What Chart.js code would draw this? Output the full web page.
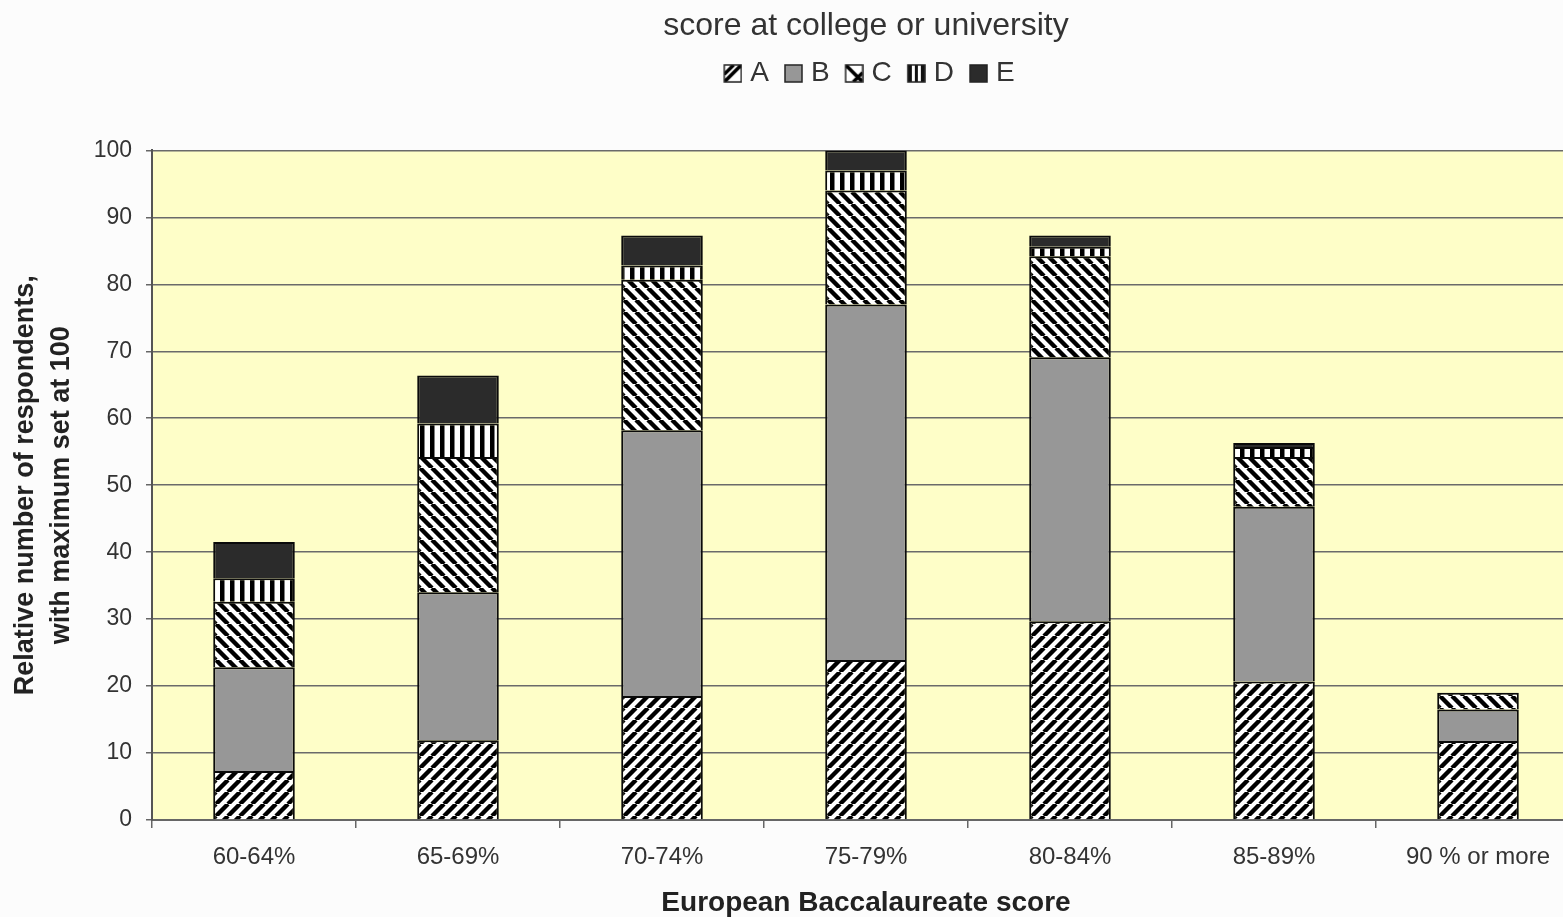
<!DOCTYPE html>
<html>
<head>
<meta charset="utf-8">
<script src="https://cdn.jsdelivr.net/npm/chart.js@4/dist/chart.umd.min.js"></script>
<style>
  html, body { margin: 0; padding: 0; background: #fcfcfc; overflow: hidden; }
  #wrap { position: relative; width: 1590px; height: 917px; }
</style>
</head>
<body>
<div id="wrap"><canvas id="chart" width="1590" height="917"></canvas></div>
<script>
// Score bands on the horizontal axis
const categories = ['60-64%', '65-69%', '70-74%', '75-79%', '80-84%', '85-89%', '90 % or more'];
// Grade obtained at college or university
const seriesNames = ['A', 'B', 'C', 'D', 'E'];
const valuesA = [7.3, 11.9, 18.5, 23.9, 29.7, 20.7, 11.8];
const valuesB = [15.5, 22.1, 39.7, 53.1, 39.4, 26.1, 4.7];
const valuesC = [9.8, 20.2, 22.5, 17.0, 15.1, 7.4, 2.5];
const valuesD = [3.5, 5.0, 2.1, 3.0, 1.4, 1.5, 0];
const valuesE = [5.4, 7.2, 4.5, 3.0, 1.7, 0.6, 0];
const yTickValues = [0, 10, 20, 30, 40, 50, 60, 70, 80, 90, 100];

const FONT = '"Liberation Sans", Arial, Helvetica, sans-serif';

// Hatch fills for the bar segments
function makeTile(w, h, paint) {
  const c = document.createElement('canvas');
  c.width = w; c.height = h;
  const g = c.getContext('2d');
  paint(g, w, h);
  return c;
}
function diagonalTile(size, width, rising) {
  return makeTile(size, size, (g, w, h) => {
    g.fillStyle = '#ffffff';
    g.fillRect(0, 0, w, h);
    g.strokeStyle = '#000000';
    g.lineWidth = width;
    g.beginPath();
    for (let k = -1; k <= 1; k++) {
      if (rising) {
        g.moveTo(k * size, size); g.lineTo(k * size + size, 0);
      } else {
        g.moveTo(k * size, 0); g.lineTo(k * size + size, size);
      }
    }
    g.stroke();
  });
}
function verticalTile(period, black) {
  return makeTile(period, period, (g, w, h) => {
    g.fillStyle = '#ffffff';
    g.fillRect(0, 0, w, h);
    g.fillStyle = '#000000';
    g.fillRect(0, 0, black, h);
  });
}
const ctx = document.getElementById('chart').getContext('2d');
const fillA = ctx.createPattern(diagonalTile(12, 4.4, true), 'repeat');
const fillB = '#979797';
const fillC = ctx.createPattern(diagonalTile(12, 4.4, false), 'repeat');
const fillD = ctx.createPattern(verticalTile(10, 4.5), 'repeat');
const fillE = '#2b2b2b';

// Small legend swatches; the square sits at the right of its canvas so
// it lies close to its letter
const SW_PAD = 6;
function swatch(kind) {
  const s = 17;
  return makeTile(s + 2 + 2 * SW_PAD, s + 2, (g, w, h) => {
    const o = 1, ox = 2 * SW_PAD + 1;
    g.fillStyle = kind === 'B' ? '#979797' : kind === 'E' ? '#2b2b2b' : kind === 'D' ? '#111111' : '#ffffff';
    g.fillRect(ox, o, s, s);
    g.save();
    g.beginPath(); g.rect(ox, o, s, s); g.clip();
    if (kind === 'A') {
      g.strokeStyle = '#000'; g.lineWidth = 3.5;
      g.beginPath(); g.moveTo(ox, o + s); g.lineTo(ox + s, o); g.stroke();
      g.beginPath(); g.moveTo(ox, o + s * 0.55); g.lineTo(ox + s * 0.55, o); g.stroke();
    } else if (kind === 'C') {
      g.strokeStyle = '#000'; g.lineWidth = 3.5;
      g.beginPath(); g.moveTo(ox, o); g.lineTo(ox + s, o + s); g.stroke();
      g.beginPath(); g.moveTo(ox + s * 0.45, o + s); g.lineTo(ox + s, o + s * 0.45); g.stroke();
    } else if (kind === 'D') {
      g.fillStyle = '#ffffff';
      g.fillRect(ox + 4, o, 3, s);
      g.fillRect(ox + 10, o, 3, s);
    }
    g.restore();
    g.strokeStyle = '#222';
    g.lineWidth = 1.5;
    g.strokeRect(ox, o, s, s);
  });
}
const swatches = seriesNames.map(swatch);

const seriesValues = [valuesA, valuesB, valuesC, valuesD, valuesE];
const seriesFills = [fillA, fillB, fillC, fillD, fillE];

const datasets = seriesNames.map((name, i) => ({
  label: name,
  data: seriesValues[i],
  backgroundColor: seriesFills[i],
  borderColor: '#0a0a0a',
  borderWidth: 2,
  barPercentage: 0.4,
  categoryPercentage: 1.0
}));

// Pale yellow plot background
const plotBackground = {
  id: 'plotBackground',
  beforeDraw(chart) {
    const { ctx, chartArea: a } = chart;
    ctx.save();
    ctx.fillStyle = '#fefec8';
    ctx.fillRect(a.left, a.top, a.right - a.left, a.bottom - a.top);
    ctx.restore();
  }
};

// Extra space under the legend
const legendSpacing = {
  id: 'legendSpacing',
  beforeInit(chart) {
    const origFit = chart.legend.fit;
    chart.legend.fit = function () {
      origFit.bind(chart.legend)();
      this.height += 53;
    };
  }
};

new Chart(ctx, {
  type: 'bar',
  data: { labels: categories, datasets },
  plugins: [plotBackground, legendSpacing],
  options: {
    responsive: false,
    animation: false,
    devicePixelRatio: 1,
    layout: { padding: { left: 0, right: 10, top: 0, bottom: 0 } },
    plugins: {
      title: {
        display: true,
        fullSize: false,
        text: 'score at college or university',
        color: '#333333',
        font: { family: FONT, size: 32, weight: 'normal', lineHeight: 1.2 },
        padding: { top: 7, bottom: 5 }
      },
      legend: {
        display: true,
        fullSize: false,
        position: 'top',
        labels: {
          color: '#333333',
          font: { family: FONT, size: 28 },
          boxWidth: 19,
          boxHeight: 19,
          padding: 9,
          usePointStyle: true,
          generateLabels(chart) {
            const items = Chart.defaults.plugins.legend.labels.generateLabels(chart);
            items.forEach((it, i) => { it.pointStyle = swatches[i]; });
            return items;
          }
        }
      },
      tooltip: { enabled: false }
    },
    scales: {
      x: {
        stacked: true,
        grid: { drawOnChartArea: false, drawTicks: true, tickLength: 8, color: '#666666', lineWidth: 1.5 },
        border: { display: true, color: '#666666', width: 2 },
        ticks: { color: '#333333', font: { family: FONT, size: 24 }, padding: 15, maxRotation: 0, autoSkip: false },
        title: {
          display: true,
          text: 'European Baccalaureate score',
          color: '#222222',
          font: { family: FONT, size: 28, weight: 'bold', lineHeight: 1.0 },
          padding: { top: 0, bottom: 0 }
        },
        afterFit(scale) { scale.height = 97; }
      },
      y: {
        stacked: true,
        min: 0,
        max: 100,
        afterBuildTicks(scale) { scale.ticks = yTickValues.map(v => ({ value: v })); },
        grid: { color: '#6a6a6a', lineWidth: 1.5, tickLength: 6, drawTicks: true, tickColor: '#666666' },
        border: { display: true, color: '#555555', width: 2 },
        ticks: { color: '#333333', font: { family: FONT, size: 23 }, padding: 14 },
        title: {
          display: true,
          text: ['Relative number of respondents,', 'with maximum set at 100'],
          color: '#222222',
          font: { family: FONT, size: 27, weight: 'bold', lineHeight: 1.35 },
          padding: { top: 7, bottom: 0 }
        },
        afterFit(scale) { scale.width = 152; }
      }
    }
  }
});
</script>
</body>
</html>
